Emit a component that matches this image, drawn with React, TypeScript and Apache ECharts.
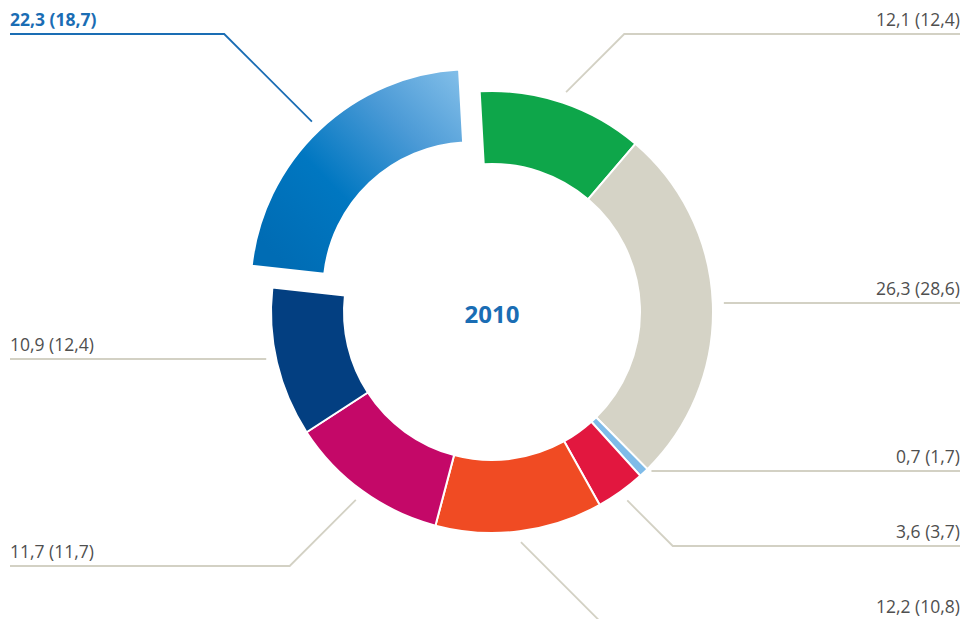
import React, { useEffect, useRef } from 'react';
import * as echarts from 'echarts';

// ---- data ----
const categories = ['Segment 1', 'Segment 2', 'Segment 3', 'Segment 4', 'Segment 5', 'Segment 6', 'Segment 7', 'Segment 8'];
const values2010 = [12.1, 26.3, 0.7, 3.6, 12.2, 11.7, 10.9, 22.3];
const values2009 = [12.4, 28.6, 1.7, 3.7, 10.8, 11.7, 12.4, 18.7];
const highlightIndex = 7;
const centerLabel = '2010';

// ---- styles / layout ----
const COLORS = ['#0ea64a', '#d5d3c6', '#7fbbe8', '#e2173f', '#f04b23', '#c40868', '#033f81', '#0077c1'];
const LABEL_LINE_Y = [34, 303, 471, 546, 621, 566, 359, 34];
const CX = 492;
const CY = 312;
const R_IN = 148;
const R_OUT = 221;
const START_ANGLE = 93.2;
const EXPLODE = 30;
const LINE_R = 232;
const RIGHT_EDGE = 960;
const LEFT_EDGE = 10;
const GRAY_TEXT = '#4f4f4f';
const LINE_GRAY = '#d3d1c4';
const BLUE_TEXT = '#1a6db4';
const FONT_SIZE = 17.5;

const fmt = (v: number) => v.toFixed(1).replace('.', ',');

function midAngleRad(i: number) {
  const total = values2010.reduce((a, b) => a + b, 0);
  const before = values2010.slice(0, i).reduce((a, b) => a + b, 0);
  const deg = (90 - START_ANGLE) + ((before + values2010[i] / 2) / total) * 360;
  return (deg * Math.PI) / 180; // clockwise from top
}

function makeLabelLayout(cx: number, cy: number) {
  return (params: any) => {
    const i = params.dataIndex;
    let ux: number, uy: number;
    const p0 = params.labelLinePoints && params.labelLinePoints[0];
    if (p0) {
      const dx = p0[0] - cx;
      const dy = p0[1] - cy;
      const len = Math.hypot(dx, dy) || 1;
      ux = dx / len;
      uy = dy / len;
    } else {
      const a = midAngleRad(i);
      ux = Math.sin(a);
      uy = -Math.cos(a);
    }
    const sx = cx + ux * LINE_R;
    const sy = cy + uy * LINE_R;
    const right = ux >= 0;
    const ty = LABEL_LINE_Y[i];
    const d = ty - sy;
    let start: number[];
    let elbow: number[];
    if (Math.abs(d) < 15) {
      start = [sx, ty];
      elbow = [sx, ty];
    } else {
      start = [sx, sy];
      elbow = [sx + (right ? 1 : -1) * Math.abs(d), ty];
    }
    const end = [right ? RIGHT_EDGE : LEFT_EDGE, ty];
    return {
      x: end[0],
      y: ty - 5,
      align: right ? 'right' : 'left',
      verticalAlign: 'bottom',
      labelLinePoints: [start, elbow, end],
    };
  };
}

export default function App() {
  const ref = useRef<HTMLDivElement>(null);

  useEffect(() => {
    if (!ref.current) return;
    const chart = echarts.init(ref.current, undefined, { renderer: 'svg' });

    const a = midAngleRad(highlightIndex);
    const cx2 = CX + EXPLODE * Math.sin(a);
    const cy2 = CY - EXPLODE * Math.cos(a);

    const blueGradient = new echarts.graphic.LinearGradient(0.1, 0.9, 1, 0.05, [
      { offset: 0, color: '#006cb4' },
      { offset: 0.35, color: '#0077c1' },
      { offset: 0.7, color: '#4b9ad6' },
      { offset: 1, color: '#80bde8' },
    ]);

    const hidden = {
      itemStyle: { color: 'rgba(0,0,0,0)', borderWidth: 0 },
      label: { show: false },
      labelLine: { show: false },
    };

    const baseData = values2010.map((v, i) =>
      i === highlightIndex
        ? { name: categories[i], value: v, ...hidden }
        : { name: categories[i], value: v, itemStyle: { color: COLORS[i] } }
    );

    const hlData = values2010.map((v, i) =>
      i === highlightIndex
        ? { name: categories[i], value: v, itemStyle: { color: blueGradient } }
        : { name: categories[i], value: v, ...hidden }
    );

    const commonSeries = {
      type: 'pie',
      radius: [R_IN, R_OUT],
      startAngle: START_ANGLE,
      clockwise: true,
      avoidLabelOverlap: false,
      silent: true,
      emphasis: { disabled: true },
      itemStyle: { borderColor: '#ffffff', borderWidth: 2 },
    };

    chart.setOption({
      animation: false,
      graphic: [
        {
          type: 'text',
          x: CX,
          y: CY + 1,
          style: {
            text: centerLabel,
            align: 'center',
            verticalAlign: 'middle',
            font: 'bold 24px "Open Sans"',
            fill: BLUE_TEXT,
          },
        },
      ],
      series: [
        {
          ...commonSeries,
          center: [CX, CY],
          data: baseData,
          label: {
            show: true,
            position: 'outside',
            formatter: (p: any) => `${fmt(values2010[p.dataIndex])} (${fmt(values2009[p.dataIndex])})`,
            color: GRAY_TEXT,
            fontFamily: 'Open Sans',
            fontSize: FONT_SIZE,
            lineHeight: 20,
          },
          labelLine: { show: true, length: 10, length2: 10, lineStyle: { color: LINE_GRAY, width: 1.8 } },
          labelLayout: makeLabelLayout(CX, CY),
        },
        {
          ...commonSeries,
          center: [cx2, cy2],
          data: hlData,
          label: {
            show: true,
            position: 'outside',
            formatter: (p: any) => `${fmt(values2010[p.dataIndex])} (${fmt(values2009[p.dataIndex])})`,
            color: BLUE_TEXT,
            fontFamily: 'Open Sans',
            fontWeight: 'bold',
            fontSize: FONT_SIZE,
            lineHeight: 20,
          },
          labelLine: { show: true, length: 10, length2: 10, lineStyle: { color: BLUE_TEXT, width: 1.8 } },
          labelLayout: makeLabelLayout(cx2, cy2),
        },
      ],
    });

    return () => chart.dispose();
  }, []);

  return (
    <div
      ref={ref}
      style={{ position: 'absolute', left: 0, top: 0, width: 963, height: 619, background: '#ffffff' }}
    />
  );
}
